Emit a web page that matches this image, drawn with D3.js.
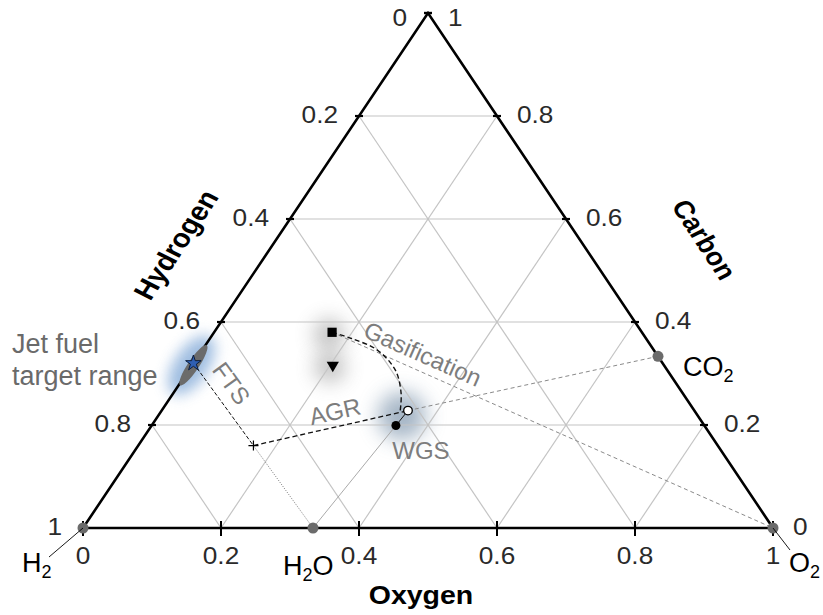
<!DOCTYPE html>
<html>
<head>
    <meta charset="UTF-8">
    <title>C-H-O ternary diagram</title>
    <style>
        body {
            margin: 0;
            background-color: white;
        }
        svg {
            display: block;
            font-family: Arial, "Liberation Sans", sans-serif;
        }
    </style>
</head>
<body>
    <svg id="chart" width="823" height="615"></svg>

    <script src="https://d3js.org/d3.v7.min.js"></script>
    <script>
        // compositions are atom fractions [hydrogen, carbon, oxygen]
        var gridLevels = [0.2, 0.4, 0.6, 0.8];
        var tickValues = [0, 0.2, 0.4, 0.6, 0.8, 1];
        var tickLabels = ["0", "0.2", "0.4", "0.6", "0.8", "1"];

        var speciesNames = ["H", "H", "CO", "O"];
        var speciesSubs = ["2", "2", "2", "2"];
        var speciesTails = ["", "O", "", ""];
        var speciesComp = [[1, 0, 0], [2 / 3, 0, 1 / 3], [0, 1 / 3, 2 / 3], [0, 0, 1]];

        var jetFuel = [0.68, 0.32, 0.0];
        var syngas = [0.673, 0.16, 0.167];
        var feedSquare = [0.449, 0.38, 0.171];
        var feedTriangle = [0.48, 0.316, 0.204];
        var afterGasif = [0.415, 0.228, 0.357];
        var afterWgs = [0.447, 0.199, 0.354];

        // dashed gasification path
        var gasifPath = [
            [0.449, 0.380, 0.171],
            [0.427, 0.368, 0.205],
            [0.401, 0.346, 0.253],
            [0.394, 0.307, 0.299],
            [0.408, 0.262, 0.330],
            [0.428, 0.225, 0.347]
        ];

        var svg = d3.select("#chart");
        var stretch = 1.14;

        var x = d3.scaleLinear().domain([0, 1]).range([83, 773]);
        var y = d3.scaleLinear().domain([0, 1]).range([528, 13]);

        function px(c) { return x(c[2] + c[1] / 2); }
        function py(c) { return y(c[1]); }
        function pt(c) { return [px(c), py(c)]; }

        var defs = svg.append("defs");
        function blur(id, sd) {
            defs.append("filter").attr("id", id)
                .attr("x", "-150%").attr("y", "-150%")
                .attr("width", "400%").attr("height", "400%")
                .append("feGaussianBlur").attr("stdDeviation", sd);
        }
        blur("blur7", 7);
        blur("blur10", 10);

        var glowG = svg.append("g");
        var gridG = svg.append("g");
        var lineG = svg.append("g");
        var axisG = svg.append("g");
        var markG = svg.append("g");
        var textG = svg.append("g");

        // ---- grid ----
        gridLevels.forEach(function(t) {
            var segs = [
                [[1 - t, t, 0], [0, t, 1 - t]],   // constant carbon
                [[1 - t, 0, t], [0, 1 - t, t]],   // constant oxygen
                [[t, 1 - t, 0], [t, 0, 1 - t]]    // constant hydrogen
            ];
            segs.forEach(function(s) {
                gridG.append("line")
                    .attr("x1", px(s[0])).attr("y1", py(s[0]))
                    .attr("x2", px(s[1])).attr("y2", py(s[1]))
                    .attr("stroke", "#c4c4c4")
                    .attr("stroke-width", 1.2);
            });
        });

        // ---- glows ----
        var jetMid = pt(jetFuel);
        var edgeAngle = Math.atan2(py([0, 1, 0]) - py([1, 0, 0]), px([0, 1, 0]) - px([1, 0, 0])) * 180 / Math.PI;

        glowG.append("ellipse")
            .attr("cx", jetMid[0] - 2).attr("cy", jetMid[1] + 2)
            .attr("rx", 34).attr("ry", 17)
            .attr("transform", "rotate(" + edgeAngle + "," + (jetMid[0] - 2) + "," + (jetMid[1] + 2) + ")")
            .attr("fill", "#8fb2dc")
            .attr("opacity", 0.85)
            .attr("filter", "url(#blur7)");

        var sq = pt(feedSquare), tri = pt(feedTriangle);
        [sq, tri].forEach(function(p) {
            glowG.append("circle")
                .attr("cx", p[0] - 3).attr("cy", p[1] + 2)
                .attr("r", 15)
                .attr("fill", "#6e6e6e")
                .attr("opacity", 0.45)
                .attr("filter", "url(#blur10)");
        });

        var og = pt(afterGasif), wg = pt(afterWgs);
        glowG.append("circle")
            .attr("cx", (og[0] + wg[0]) / 2).attr("cy", (og[1] + wg[1]) / 2 - 2)
            .attr("r", 24)
            .attr("fill", "#6b85a0")
            .attr("opacity", 0.6)
            .attr("filter", "url(#blur10)");

        // ---- process lines ----
        function seg(a, b, color, width, dash) {
            lineG.append("line")
                .attr("x1", px(a)).attr("y1", py(a))
                .attr("x2", px(b)).attr("y2", py(b))
                .attr("stroke", color)
                .attr("stroke-width", width)
                .attr("stroke-dasharray", dash);
        }
        var h2o = speciesComp[1], co2 = speciesComp[2], o2 = speciesComp[3], h2 = speciesComp[0];

        seg(feedSquare, o2, "#8a8a8a", 1, "4,3");          // gasification with O2
        seg(afterGasif, co2, "#8a8a8a", 1, "4,3");         // AGR towards CO2
        seg(syngas, afterGasif, "#111", 1.3, "5,3");       // AGR
        seg(jetFuel, syngas, "#111", 1, "4,2");            // FTS
        seg(syngas, h2o, "#555", 0.8, "1,1.5");            // water of FTS
        seg(h2o, afterWgs, "#aaa", 1, null);               // WGS water line
        seg(afterWgs, afterGasif, "#111", 1, null);

        lineG.append("path")
            .datum(gasifPath)
            .attr("d", d3.line().x(px).y(py).curve(d3.curveCatmullRom))
            .attr("fill", "none")
            .attr("stroke", "#111")
            .attr("stroke-width", 1.4)
            .attr("stroke-dasharray", "5,3");

        // ---- axes ----
        var corners = [[1, 0, 0], [0, 0, 1], [0, 1, 0]];
        axisG.append("path")
            .attr("d", d3.line().x(px).y(py)(corners) + "Z")
            .attr("fill", "none")
            .attr("stroke", "#000")
            .attr("stroke-width", 2.6)
            .attr("stroke-linejoin", "miter");

        function label(g, text, tx, ty, anchor, size, weight, fill, rot) {
            var tr = "translate(" + tx + "," + ty + ") scale(" + stretch + ",1)";
            if (rot) tr += " rotate(" + rot + ")";
            return g.append("text")
                .attr("transform", tr)
                .attr("text-anchor", anchor)
                .attr("dominant-baseline", "central")
                .attr("font-size", size)
                .attr("font-weight", weight)
                .attr("fill", fill)
                .text(text);
        }

        tickValues.forEach(function(t, i) {
            // oxygen, bottom edge
            var b = [1 - t, 0, t];
            axisG.append("line")
                .attr("x1", px(b)).attr("y1", py(b) - 7)
                .attr("x2", px(b)).attr("y2", py(b) + 8)
                .attr("stroke", "#000").attr("stroke-width", 2);
            label(axisG, tickLabels[i], px(b), py(b) + 28, "middle", 23, "normal", "#2a2a2a");

            // hydrogen, left edge
            var l = [t, 1 - t, 0];
            axisG.append("line")
                .attr("x1", px(l) - 4).attr("y1", py(l))
                .attr("x2", px(l) + 4).attr("y2", py(l))
                .attr("stroke", "#000").attr("stroke-width", 2.2);
            label(axisG, tickLabels[i], px(l) - 21, py(l) + (t === 0 ? 5 : -1), "end", 23, "normal", "#2a2a2a");

            // carbon, right edge
            var r = [0, t, 1 - t];
            axisG.append("line")
                .attr("x1", px(r) - 4).attr("y1", py(r))
                .attr("x2", px(r) + 4).attr("y2", py(r))
                .attr("stroke", "#000").attr("stroke-width", 2.2);
            label(axisG, tickLabels[i], px(r) + 20, py(r) + (t === 1 ? 5 : -1), "start", 23, "normal", "#2a2a2a");
        });

        // axis titles
        label(axisG, "Oxygen", x(0.5) - 7, 596, "middle", 25, "bold", "#000");
        label(axisG, "Hydrogen", x(0.135), y(0.55), "middle", 26, "bold", "#000", -60);
        label(axisG, "Carbon", x(0.90), y(0.56), "middle", 25, "bold", "#000", 60);

        // ---- markers ----
        markG.selectAll("circle.species")
            .data(speciesComp)
            .enter().append("circle")
            .attr("class", "species")
            .attr("cx", px).attr("cy", py)
            .attr("r", 5.5)
            .attr("fill", "#6b6b6b");

        // jet fuel range
        markG.append("ellipse")
            .attr("cx", jetMid[0]).attr("cy", jetMid[1] + 2)
            .attr("rx", 24).attr("ry", 5.5)
            .attr("transform", "rotate(" + edgeAngle + "," + jetMid[0] + "," + (jetMid[1] + 2) + ")")
            .attr("fill", "#6b6b6b");

        markG.append("path")
            .attr("d", d3.symbol().type(d3.symbolStar).size(75)())
            .attr("transform", "translate(" + jetMid[0] + "," + jetMid[1] + ")")
            .attr("fill", "#2f5fb3")
            .attr("stroke", "#0b1d3d")
            .attr("stroke-width", 1);

        markG.append("path")
            .attr("d", "M-5,0H5M0,-5V5")
            .attr("transform", "translate(" + px(syngas) + "," + py(syngas) + ")")
            .attr("stroke", "#000").attr("stroke-width", 1.2);

        markG.append("path")
            .attr("d", d3.symbol().type(d3.symbolSquare).size(85)())
            .attr("transform", "translate(" + sq[0] + "," + sq[1] + ")")
            .attr("fill", "#000");

        markG.append("path")
            .attr("d", d3.symbol().type(d3.symbolTriangle).size(65)())
            .attr("transform", "translate(" + tri[0] + "," + tri[1] + ") rotate(180)")
            .attr("fill", "#000");

        markG.append("circle")
            .attr("cx", wg[0]).attr("cy", wg[1]).attr("r", 4.5)
            .attr("fill", "#000");
        markG.append("circle")
            .attr("cx", og[0]).attr("cy", og[1]).attr("r", 4.3)
            .attr("fill", "#fff").attr("stroke", "#000").attr("stroke-width", 1.3);

        // leader lines to H2 and O2 labels
        markG.append("line")
            .attr("x1", px(h2)).attr("y1", py(h2))
            .attr("x2", px(h2) - 34).attr("y2", py(h2) + 29)
            .attr("stroke", "#000").attr("stroke-width", 0.9);
        markG.append("line")
            .attr("x1", px(o2)).attr("y1", py(o2))
            .attr("x2", px(o2) + 17).attr("y2", py(o2) + 22)
            .attr("stroke", "#000").attr("stroke-width", 0.9);

        // ---- annotations ----
        function chem(i, tx, ty) {
            var t = textG.append("text")
                .attr("x", tx).attr("y", ty)
                .attr("font-size", 27)
                .attr("fill", "#000");
            t.append("tspan").text(speciesNames[i]);
            t.append("tspan").attr("font-size", 18).attr("dy", 6).text(speciesSubs[i]);
            if (speciesTails[i]) t.append("tspan").attr("dy", -6).text(speciesTails[i]);
        }
        chem(0, px(h2) - 61, py(h2) + 44);
        chem(1, px(h2o) - 30, py(h2o) + 47);
        chem(2, px(co2) + 25, py(co2) + 20);
        chem(3, px(o2) + 16, py(o2) + 44);

        textG.append("text")
            .attr("x", 12).attr("y", 353)
            .attr("font-size", 27).attr("fill", "#6a6a6a")
            .text("Jet fuel");
        textG.append("text")
            .attr("x", 12).attr("y", 385)
            .attr("font-size", 27).attr("fill", "#6a6a6a")
            .text("target range");

        function along(text, a, b, f, off, size) {
            var ax = px(a), ay = py(a), bx = px(b), by = py(b);
            var ang = Math.atan2(by - ay, bx - ax);
            var deg = ang * 180 / Math.PI;
            if (deg > 90) deg -= 180;
            if (deg < -90) deg += 180;
            var cx = ax + (bx - ax) * f + Math.sin(ang) * off;
            var cy = ay + (by - ay) * f - Math.cos(ang) * off;
            textG.append("text")
                .attr("transform", "translate(" + cx + "," + cy + ") rotate(" + deg + ")")
                .attr("text-anchor", "middle")
                .attr("dominant-baseline", "central")
                .attr("font-size", size)
                .attr("fill", "#7d7d7d")
                .text(text);
        }
        along("Gasification", feedSquare, o2, 0.19, 17, 24);
        along("FTS", jetFuel, syngas, 0.38, 19, 24);
        along("AGR", syngas, co2, 0.21, 16, 24);

        textG.append("text")
            .attr("x", px(afterWgs) + 25).attr("y", py(afterWgs) + 25)
            .attr("text-anchor", "middle")
            .attr("dominant-baseline", "central")
            .attr("font-size", 24)
            .attr("fill", "#7d7d7d")
            .text("WGS");
    </script>
</body>
</html>
